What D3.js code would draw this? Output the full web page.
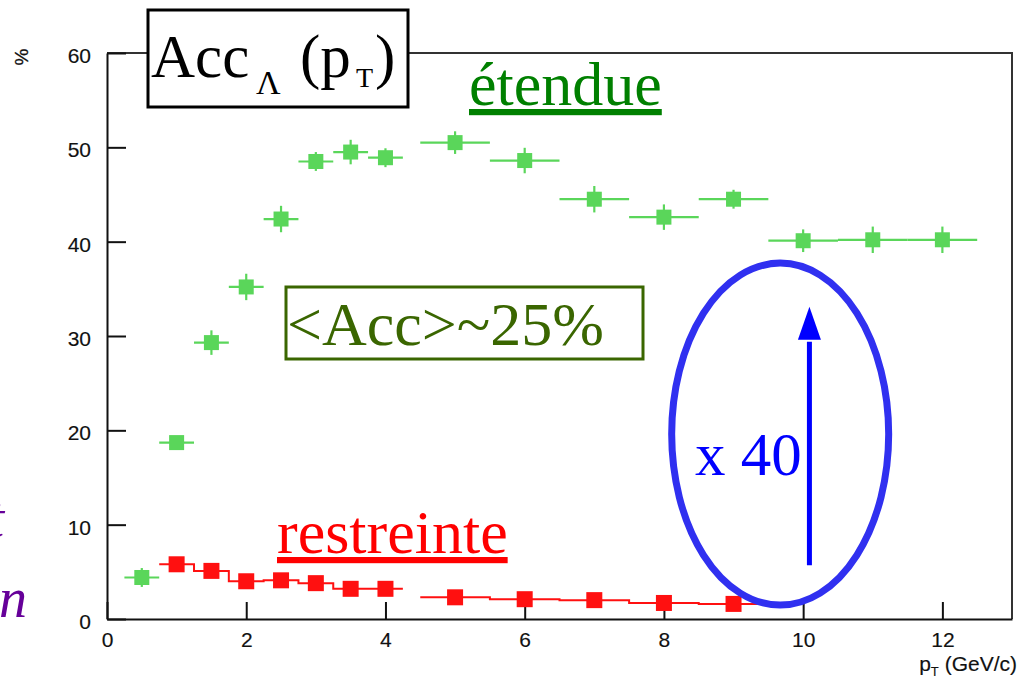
<!DOCTYPE html>
<html>
<head>
<meta charset="utf-8">
<script src="https://cdn.jsdelivr.net/npm/d3@7"></script>
<style>
  html, body { margin: 0; padding: 0; background: #fff; }
  svg { display: block; }
</style>
</head>
<body>
<div id="chart"></div>
<script>
// acceptance vs pT
const ptEtendue = [0.5, 1, 1.5, 2, 2.5, 3, 3.5, 4, 5, 6, 7, 8, 9, 10, 11, 12];
const accEtendue = [4.4, 18.7, 29.3, 35.2, 42.4, 48.5, 49.5, 48.9, 50.5, 48.6, 44.5, 42.6, 44.5, 40.1, 40.2, 40.2];
const errEtendue = [1.0, 0.5, 1.3, 1.4, 1.4, 1.0, 1.3, 1.0, 1.2, 1.35, 1.4, 1.35, 1.0, 1.2, 1.4, 1.4];
const binEtendue = [0.25, 0.25, 0.25, 0.25, 0.25, 0.25, 0.25, 0.25, 0.5, 0.5, 0.5, 0.5, 0.5, 0.5, 0.5, 0.5];

const ptRestreinte = [1, 1.5, 2, 2.5, 3, 3.5, 4, 5, 6, 7, 8, 9];
const accRestreinte = [5.8, 5.1, 4.0, 4.1, 3.8, 3.2, 3.2, 2.3, 2.1, 2.0, 1.7, 1.6];
const binRestreinte = [0.25, 0.25, 0.25, 0.25, 0.25, 0.25, 0.25, 0.5, 0.5, 0.5, 0.5, 0.5];

const xTicks = [0, 2, 4, 6, 8, 10, 12];
const yTicks = [0, 10, 20, 30, 40, 50, 60];

const W = 1027, H = 681;
const serif = "'Liberation Serif', 'Times New Roman', serif";
const sans = "'Liberation Sans', Arial, Helvetica, sans-serif";

const svg = d3.select("#chart").append("svg")
  .attr("width", W).attr("height", H)
  .attr("viewBox", `0 0 ${W} ${H}`);

const x = d3.scaleLinear().domain([0, 13]).range([107, 1012]);
const y = d3.scaleLinear().domain([0, 60]).range([619, 53]);

// frame (top + right)
svg.append("path")
  .attr("d", `M${x(0)},${y(60)}H${x(13)}V${y(0)}`)
  .attr("fill", "none").attr("stroke", "#333").attr("stroke-width", 2);

// axes, ROOT style: ticks inside
const xAxis = d3.axisBottom(x).tickValues(xTicks).tickSizeInner(-17).tickSizeOuter(0).tickPadding(12);
const yAxis = d3.axisLeft(y).tickValues(yTicks).tickSizeInner(-19).tickSizeOuter(0).tickPadding(16);

const gx = svg.append("g").attr("transform", `translate(0,${y(0)})`).call(xAxis);
const gy = svg.append("g").attr("transform", `translate(${x(0)},0)`).call(yAxis);
[gx, gy].forEach(g => {
  g.select(".domain").attr("stroke", "#111").attr("stroke-width", 2);
  g.selectAll(".tick line").attr("stroke", "#111").attr("stroke-width", 2);
  g.selectAll(".tick text").attr("font-family", sans).attr("font-size", 21)
    .attr("fill", "#111").attr("stroke", "#111").attr("stroke-width", 0.15);
});
gx.selectAll(".tick text").attr("dy", "0.78em");
gy.selectAll(".tick text").attr("dy", "0.45em");

// axis titles
const xt = svg.append("text").attr("x", 1017).attr("y", 671)
  .attr("text-anchor", "end").attr("font-family", sans).attr("font-size", 21)
  .attr("fill", "#111").attr("stroke", "#111").attr("stroke-width", 0.15);
xt.append("tspan").text("p");
xt.append("tspan").attr("font-size", 13).attr("dy", 5).text("T");
xt.append("tspan").attr("dy", -5).text(" (GeV/c)");

svg.append("text")
  .attr("transform", "translate(28,57) rotate(-90)")
  .attr("text-anchor", "middle").attr("font-family", sans).attr("font-size", 19)
  .attr("fill", "#111").attr("stroke", "#111").attr("stroke-width", 0.3)
  .text("%");

// restreinte: step histogram + markers
const red = "#ff1010";
const redBins = ptRestreinte.map((p, i) => ({ lo: p - binRestreinte[i], hi: p + binRestreinte[i], v: accRestreinte[i] }));
let stepD = "";
redBins.forEach((b, i) => {
  const prev = redBins[i - 1];
  if (prev && Math.abs(prev.hi - b.lo) < 1e-9) stepD += `V${y(b.v)}H${x(b.hi)}`;
  else stepD += `M${x(b.lo)},${y(b.v)}H${x(b.hi)}`;
});
svg.append("path").attr("d", stepD).attr("fill", "none").attr("stroke", red).attr("stroke-width", 2);
svg.append("g").selectAll("rect").data(redBins).join("rect")
  .attr("x", d => x((d.lo + d.hi) / 2) - 8).attr("y", d => y(d.v) - 8)
  .attr("width", 16).attr("height", 16).attr("fill", red);

// etendue: error bars + markers
const green = "#5ad65a";
const greenPts = ptEtendue.map((p, i) => ({ p, v: accEtendue[i], e: errEtendue[i], h: binEtendue[i] }));
const gg = svg.append("g").attr("stroke", green).attr("stroke-width", 2.2);
gg.selectAll("line.h").data(greenPts).join("line").attr("class", "h")
  .attr("x1", d => x(d.p - d.h)).attr("x2", d => x(d.p + d.h))
  .attr("y1", d => y(d.v)).attr("y2", d => y(d.v));
gg.selectAll("line.v").data(greenPts).join("line").attr("class", "v")
  .attr("x1", d => x(d.p)).attr("x2", d => x(d.p))
  .attr("y1", d => y(d.v - d.e)).attr("y2", d => y(d.v + d.e));
svg.append("g").selectAll("rect").data(greenPts).join("rect")
  .attr("x", d => x(d.p) - 7.5).attr("y", d => y(d.v) - 7.5)
  .attr("width", 15).attr("height", 15).attr("fill", green);

// title box
svg.append("rect").attr("x", 148).attr("y", 10).attr("width", 260).attr("height", 97)
  .attr("fill", "#fff").attr("stroke", "#000").attr("stroke-width", 3);
const title = [
  { t: "Acc", x: 151, y: 77, s: 61 },
  { t: "Λ", x: 256, y: 94, s: 34 },
  { t: "(p", x: 300, y: 77, s: 61 },
  { t: "T", x: 356, y: 87, s: 28 },
  { t: ")", x: 375, y: 77, s: 61 }
];
svg.append("g").selectAll("text").data(title).join("text")
  .attr("x", d => d.x).attr("y", d => d.y).attr("font-size", d => d.s)
  .attr("font-family", serif).attr("fill", "#000").text(d => d.t);

// labels
svg.append("text").attr("x", 469).attr("y", 105).attr("font-family", serif).attr("font-size", 62)
  .attr("fill", "#008000").attr("text-decoration", "underline").text("étendue");

svg.append("text").attr("x", 277).attr("y", 553).attr("font-family", serif).attr("font-size", 62)
  .attr("fill", "#ff0000").attr("text-decoration", "underline").text("restreinte");

svg.append("rect").attr("x", 286).attr("y", 287).attr("width", 357).attr("height", 72)
  .attr("fill", "#fff").attr("stroke", "#3a6600").attr("stroke-width", 3);
svg.append("text").attr("x", 287).attr("y", 345).attr("font-family", serif).attr("font-size", 62)
  .attr("fill", "#3a6600").text("<Acc>~25%");

// x 40 ellipse + arrow
svg.append("ellipse").attr("cx", x(9.67)).attr("cy", y(19.6)).attr("rx", 108.5).attr("ry", 171)
  .attr("fill", "none").attr("stroke", "#3030f0").attr("stroke-width", 7);
const ax = x(10.09);
svg.append("line").attr("x1", ax).attr("x2", ax).attr("y1", y(5.7)).attr("y2", y(29.4))
  .attr("stroke", "#0000ff").attr("stroke-width", 5);
svg.append("path")
  .attr("d", `M${ax},${y(33.1)}L${ax - 11.5},${y(29.6)}L${ax + 11.5},${y(29.6)}Z`)
  .attr("fill", "#0000ff");
svg.append("text").attr("x", 695).attr("y", 475).attr("font-family", serif).attr("font-size", 61)
  .attr("fill", "#0000ff").text("x 40");

// purple text, cut at the left edge as in the source slide
const purple = "#660099";
svg.append("text").attr("x", 4).attr("y", 537).attr("text-anchor", "end")
  .attr("font-family", serif).attr("font-style", "italic").attr("font-size", 56)
  .attr("fill", purple).text("et");
svg.append("text").attr("x", 27).attr("y", 617).attr("text-anchor", "end")
  .attr("font-family", serif).attr("font-style", "italic").attr("font-size", 56)
  .attr("fill", purple).text("on");
</script>
</body>
</html>
